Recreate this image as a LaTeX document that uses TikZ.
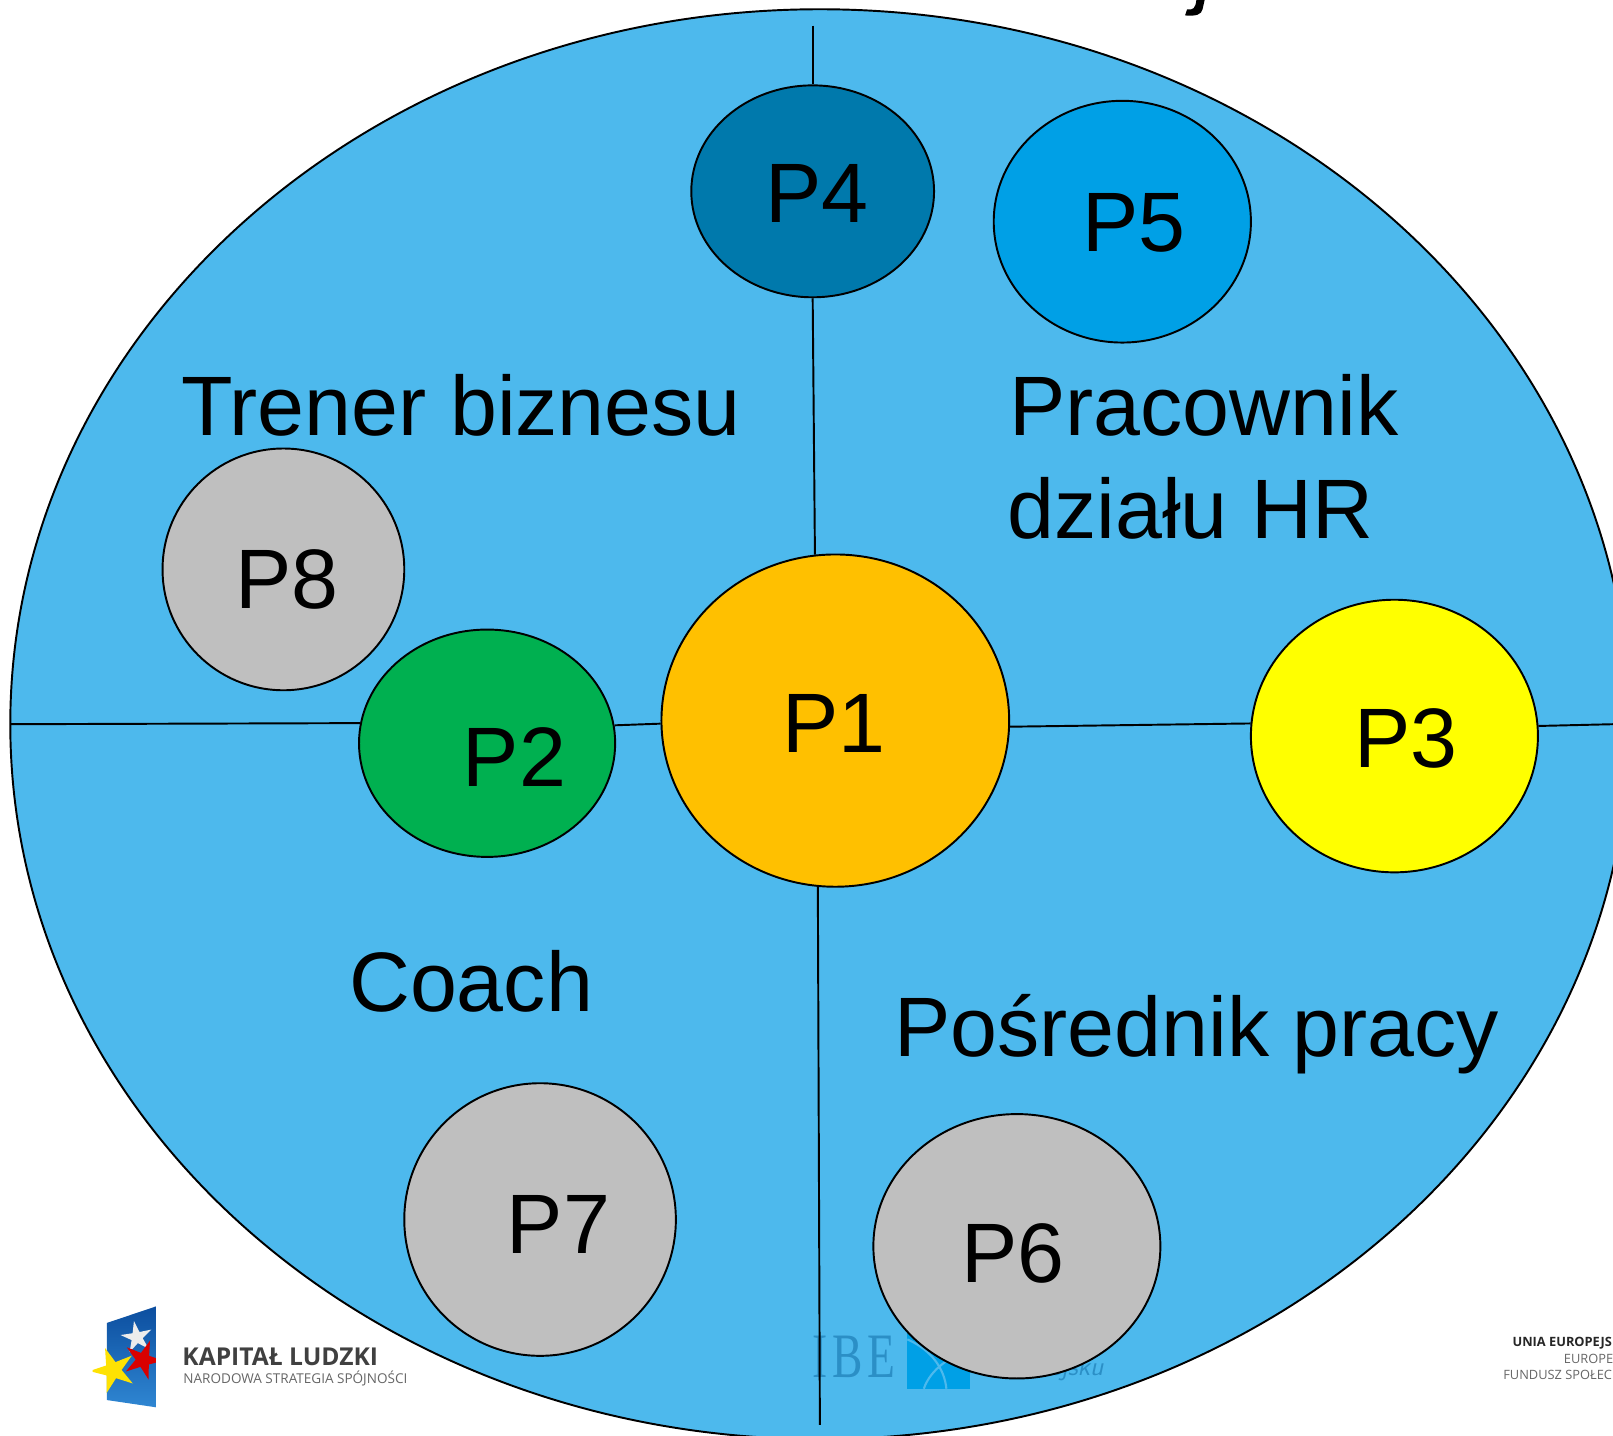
\documentclass[tikz,border=0pt]{standalone}
\usepackage{fontspec}
\setmainfont{Liberation Sans}
\newfontfamily\logofont{Open Sans}
\newfontfamily\ibefont[LetterSpace=8,FakeStretch=0.72]{Liberation Serif}
\usetikzlibrary{shapes.geometric}
\definecolor{diskblue}{HTML}{4DB9ED}
\definecolor{orangeP}{HTML}{FFC000}
\definecolor{greenP}{HTML}{00B050}
\definecolor{yellowP}{HTML}{FFFF00}
\definecolor{darkP}{HTML}{0079AC}
\definecolor{lightP}{HTML}{00A0E6}
\definecolor{grayP}{HTML}{BFBFBF}
\definecolor{ibeblue}{HTML}{2B8FC6}
\definecolor{flagtop}{HTML}{0C4E9F}
\definecolor{flagbottom}{HTML}{2F86D2}
\newcommand{\unitpx}{0.020574cm}
\tikzset{
  bubble/.style={ellipse, draw=black, line width=1.1pt, inner sep=0pt},
  bigtext/.style={font=\fontsize{48}{56}\selectfont, inner sep=0pt},
  areatext/.style={bigtext, anchor=base west},
  seam/.style={black, line width=1.1pt},
  logotext/.style={font=\logofont\fontsize{#1}{#1}\selectfont, inner sep=0pt, anchor=base west},
  logostar/.style={star, star points=5, star point ratio=2.8, inner sep=0pt, rotate=#1},
}
\begin{document}
\begin{tikzpicture}[x=0.020574cm,y=-0.020574cm]
\useasboundingbox (0,0) rectangle (1568,1395);
\clip (0,0) rectangle (1568,1395);
\node[bubble, fill=diskblue, minimum width=1574*\unitpx, minimum height=1390*\unitpx] (disk) at (797,704) {};
% logo behind P6
\node[font=\ibefont\fontsize{36}{36}\selectfont, text=ibeblue, anchor=base west, inner sep=0pt] (ibe) at (789,1339) {IBE};
\fill[lightP] (882,1296) rectangle (943,1350);
\draw[diskblue, line width=1.2pt] (882,1302) .. controls (905,1312) and (918,1330) .. (920,1350);
\draw[diskblue, line width=1.2pt] (898,1350) .. controls (905,1330) and (925,1318) .. (943,1312);
\node[font=\sffamily\itshape\fontsize{15}{15}\selectfont, text=ibeblue, anchor=base east, inner sep=0pt] (ibetail) at (1073,1337) {ejsku};
% the eight people
\node[bubble, fill=orangeP, minimum width=338*\unitpx, minimum height=323*\unitpx] (P1) at (812,700.5) {};
\node[bubble, fill=greenP, minimum width=249*\unitpx, minimum height=221*\unitpx] (P2) at (473.5,722.5) {};
\node[bubble, fill=yellowP, minimum width=279*\unitpx, minimum height=265*\unitpx] (P3) at (1355.5,715.5) {};
\node[bubble, fill=darkP, minimum width=236*\unitpx, minimum height=206*\unitpx] (P4) at (790,186) {};
\node[bubble, fill=lightP, minimum width=250*\unitpx, minimum height=235*\unitpx] (P5) at (1091,215.5) {};
\node[bubble, fill=grayP, minimum width=279*\unitpx, minimum height=257*\unitpx] (P6) at (988.5,1211.5) {};
\node[bubble, fill=grayP, minimum width=264*\unitpx, minimum height=265*\unitpx] (P7) at (525,1185.5) {};
\node[bubble, fill=grayP, minimum width=235*\unitpx, minimum height=235*\unitpx] (P8) at (275.5,553.5) {};
\node[bigtext] (labelP1) at (811,703) {P1};
\node[bigtext] (labelP2) at (500,736) {P2};
\node[bigtext] (labelP3) at (1367,718) {P3};
\node[bigtext] (labelP4) at (794,188) {P4};
\node[bigtext] (labelP5) at (1102,217) {P5};
\node[bigtext] (labelP6) at (985,1218) {P6};
\node[bigtext] (labelP7) at (543,1190) {P7};
\node[bigtext] (labelP8) at (279,563) {P8};
\coordinate (top) at (790,25);
\coordinate (bottom) at (797,1385);
\coordinate (left) at (10,704);
\coordinate (right) at (1568,704);
\draw[seam] (top)--(P4);
\draw[seam] (P4.south)--(P1.97);
\draw[seam] (P1.264)--(bottom);
\draw[seam] (left)--(P2.171.4);
\draw[seam] (P2.8.6)--(P1.181.2);
\draw[seam] (P1.358.8)--(P3.175.3);
\draw[seam] (P3.4.7)--(right);
\node[areatext] (trener) at (176,423) {Trener biznesu};
\node[areatext] (pracownik) at (981,423) {Pracownik};
\node[areatext] (dzial) at (979,523) {działu HR};
\node[areatext] (coach) at (339,983) {Coach};
\node[areatext] (posrednik) at (869,1027) {Pośrednik pracy};
% hook of the cut off title
\fill[black] (1163,0) -- (1171,0) -- (1169,9) .. controls (1168,14) and (1163,16) .. (1152,15) -- (1154,9) .. controls (1160,10) and (1162,8) .. (1163,0) -- cycle;
% logos at the bottom
\path[top color=flagtop, bottom color=flagbottom] (104,1286)--(151.5,1270)--(151.5,1368)--(104,1361)--cycle;
\begin{scope}
\clip (90,1270) rectangle (151.5,1368);
\node[logostar=10, fill=gray!15, minimum size=32*\unitpx] (starwhite) at (133,1300) {};
\node[logostar=-20, fill=red!85!black, minimum size=40*\unitpx] (starred) at (139,1322) {};
\node[logostar=20, fill=yellow!85!orange, minimum size=46*\unitpx] (staryellow) at (110,1332) {};
\end{scope}
\node[logotext=14, text=black!75, font=\logofont\bfseries\fontsize{14}{14}\selectfont] (kapital) at (177,1327) {KAPITAŁ LUDZKI};
\node[logotext=7.7, text=black!60] (narodowa) at (178,1345) {NARODOWA STRATEGIA SPÓJNOŚCI};
\node[logotext=7.3, text=black!85, font=\logofont\bfseries\fontsize{7.3}{7.3}\selectfont] (unia) at (1470,1309) {UNIA EUROPEJS};
\node[logotext=7.3, text=black!60] (europe) at (1520,1325) {EUROPE};
\node[logotext=7.3, text=black!60] (fundusz) at (1461,1341) {FUNDUSZ SPOŁEC};
\end{tikzpicture}
\end{document}
